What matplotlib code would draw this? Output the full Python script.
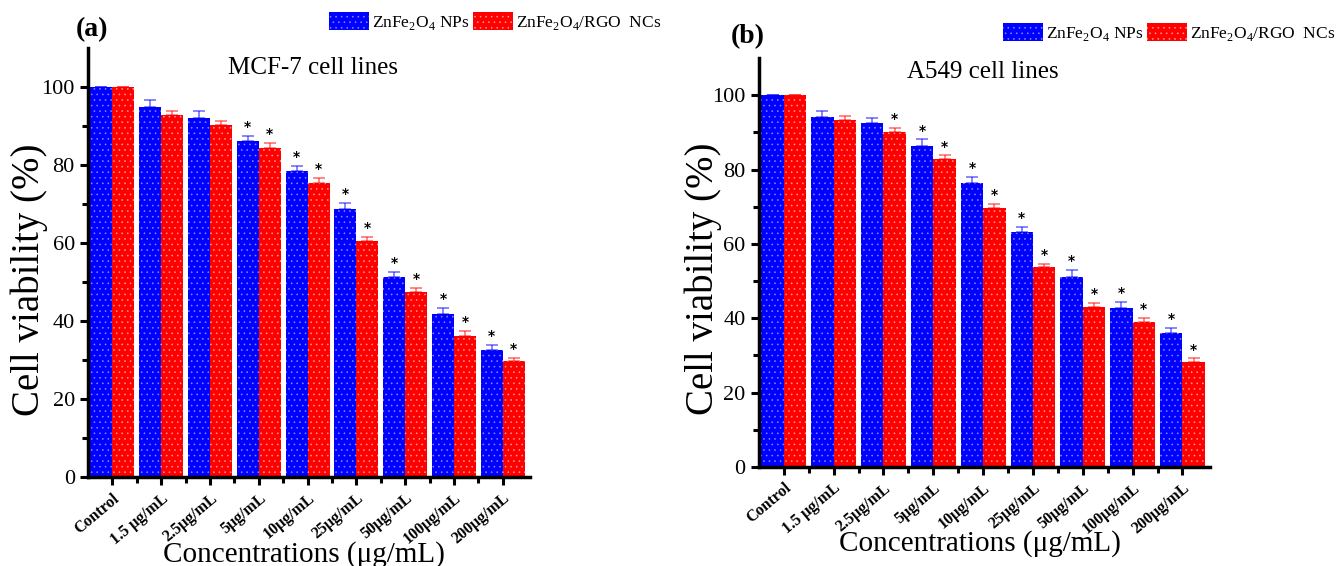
import numpy as np
import matplotlib
matplotlib.use('Agg')
import matplotlib.pyplot as plt
from matplotlib.patches import Patch

plt.rcParams['font.family'] = ['Liberation Serif', 'DejaVu Serif']
plt.rcParams['mathtext.fontset'] = 'custom'
plt.rcParams['mathtext.rm'] = 'Liberation Serif'
plt.rcParams['hatch.linewidth'] = 0.4

categories = ['Control', '1.5 μg/mL', '2.5μg/mL', '5μg/mL', '10μg/mL',
              '25μg/mL', '50μg/mL', '100μg/mL', '200μg/mL']

# panel (a) MCF-7
mcf_np = [100, 95.0, 92.2, 86.2, 78.5, 68.8, 51.2, 41.9, 32.6]
mcf_np_err = [0, 1.6, 1.7, 1.3, 1.4, 1.6, 1.4, 1.4, 1.3]
mcf_nc = [100, 92.8, 90.2, 84.3, 75.5, 60.5, 47.5, 36.2, 29.8]
mcf_nc_err = [0, 1.1, 1.2, 1.3, 1.2, 1.0, 1.1, 1.3, 0.8]
mcf_np_star = [0, 0, 0, 1, 1, 1, 1, 1, 1]
mcf_nc_star = [0, 0, 0, 1, 1, 1, 1, 1, 1]

# panel (b) A549
a549_np = [100, 94.2, 92.4, 86.4, 76.4, 63.1, 51.2, 42.8, 35.9]
a549_np_err = [0, 1.5, 1.4, 1.7, 1.7, 1.5, 1.8, 1.6, 1.5]
a549_nc = [100, 93.4, 90.1, 82.7, 69.7, 53.7, 42.9, 39.0, 28.3]
a549_nc_err = [0, 1.1, 1.1, 1.1, 1.0, 0.9, 1.1, 1.0, 0.9]
a549_np_star = [0, 0, 0, 1, 1, 1, 1, 1, 1]
a549_nc_star = [0, 0, 1, 1, 1, 1, 1, 1, 1]

blue = '#0000ff'
red = '#ff0000'
blue_dot = '#8c8cff'
red_dot = '#ff9c9c'
lab_np = 'ZnFe$_2$O$_4$ NPs'
lab_nc = 'ZnFe$_2$O$_4$/RGO  NCs'

fig = plt.figure(figsize=(13.38, 5.66), dpi=100)
ax1 = fig.add_axes([0.0658, 0.157, 0.330, 0.758])
ax2 = fig.add_axes([0.5672, 0.175, 0.337, 0.7226])


def draw(ax, v1, e1, s1, v2, e2, s2, ylab_x, xlab_y):
    x = np.arange(len(categories))
    w = 0.45
    for xs, v, e, s, c, dc in [(x - w / 2, v1, e1, s1, blue, blue_dot),
                               (x + w / 2, v2, e2, s2, red, red_dot)]:
        ax.bar(xs, v, w, color=c, edgecolor=dc, hatch='...', linewidth=0)
        ax.errorbar(xs, v, yerr=[np.zeros(len(e)), e], fmt='none', ecolor=c,
                    alpha=0.55, capsize=4, elinewidth=1.2, capthick=1.2)
        for xi, vi, ei, si in zip(xs, v, e, s):
            if si:
                ax.text(xi, vi + ei + 0.5, '*', ha='center', va='bottom',
                        fontsize=10, fontweight='bold', family='DejaVu Sans')
    ax.set_xlim(-0.5, 8.55)
    ax.set_ylim(0, 110)
    ax.set_yticks([0, 20, 40, 60, 80, 100])
    ax.set_yticks([10, 30, 50, 70, 90], minor=True)
    ax.set_xticks(x)
    ax.set_xticks(x[:-1] + 0.5, minor=True)
    ax.set_xticklabels(categories, rotation=40, ha='right', rotation_mode='anchor',
                       fontweight='bold', fontsize=11.5)
    ax.tick_params(axis='y', labelsize=16)
    ax.tick_params(which='major', length=6, width=2.2)
    ax.tick_params(which='minor', length=4, width=2.2)
    for sp in ['top', 'right']:
        ax.spines[sp].set_visible(False)
    for sp in ['left', 'bottom']:
        ax.spines[sp].set_linewidth(2.5)
    ax.set_ylabel('Cell viability (%)', fontsize=28)
    ax.yaxis.set_label_coords(ylab_x, 0.46)
    ax.set_xlabel('Concentrations (μg/mL)', fontsize=21)
    ax.xaxis.set_label_coords(0.49, xlab_y)


draw(ax1, mcf_np, mcf_np_err, mcf_np_star, mcf_nc, mcf_nc_err, mcf_nc_star,
     -0.09, -0.15)
draw(ax2, a549_np, a549_np_err, a549_np_star, a549_nc, a549_nc_err, a549_nc_star,
     -0.082, -0.155)

fig.text(228 / 1338, 1 - 68 / 566, 'MCF-7 cell lines', fontsize=18, va='center')
fig.text(907 / 1338, 1 - 72 / 566, 'A549 cell lines', fontsize=18, va='center')

fig.text(0.069, 0.948, '(a)', fontsize=20, fontweight='bold', va='center', ha='center')
fig.text(0.559, 0.936, '(b)', fontsize=20, fontweight='bold', va='center', ha='center')

handles = [Patch(facecolor=blue, edgecolor=blue_dot, hatch='...', linewidth=0),
           Patch(facecolor=red, edgecolor=red_dot, hatch='...', linewidth=0)]
for ax, pos in [(ax1, (329 / 1338, 1 - 12 / 566)), (ax2, (1003 / 1338, 1 - 23 / 566))]:
    ax.legend(handles, [lab_np, lab_nc], loc='upper left', bbox_to_anchor=pos,
              bbox_transform=fig.transFigure, ncol=2, frameon=False, fontsize=12.5,
              handlelength=2.3, handleheight=1.2, handletextpad=0.15,
              columnspacing=0.25, borderpad=0, borderaxespad=0)

fig.savefig('out.png', dpi=100)
